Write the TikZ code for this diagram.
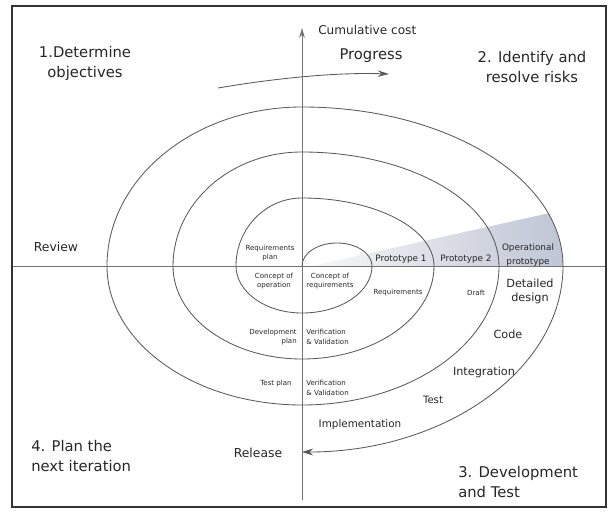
\documentclass[tikz,border=0pt]{standalone}
\usepackage{fontspec}
\setmainfont{DejaVu Sans}
\usetikzlibrary{arrows.meta}

\definecolor{wedgeblue}{RGB}{186,192,210}

\begin{document}
\begin{tikzpicture}[
    x=0.025cm, y=-0.025cm,
    frame/.style={line width=1.3pt, black!80},
    axis/.style={line width=0.5pt, black!55},
    spiral/.style={line width=0.6pt, black!65},
    quadtext/.style={font=\fontsize{10.5}{14.2}\selectfont, text=black!85, inner sep=0pt},
    phasetext/.style={font=\fontsize{8}{10}\selectfont, text=black!85, inner sep=0pt},
    prototext/.style={font=\fontsize{6.3}{10}\selectfont, text=black!85, inner sep=0pt},
    tinytext/.style={font=\fontsize{5}{7}\selectfont, text=black!85, inner sep=0pt}
]

\useasboundingbox (0,0) rectangle (615,511);

% ===== frame =====
\draw[frame] (12,6) rectangle (606,507);

% ===== prototype wedge (shaded) =====
\coordinate (origin) at (302,266);
\begin{scope}
    \clip (origin) -- (563,266) arc[start angle=0, end angle=-90, x radius=261, y radius=159] -- cycle;
    \shade[left color=gray!6, right color=wedgeblue] (312,266) -- (590,204) -- (590,266) -- cycle;
\end{scope}

% ===== axes =====
\coordinate (axistop) at (302,28);
\coordinate (axisbottom) at (302,500);
\coordinate (axisleft) at (13,266);
\coordinate (axisright) at (605,266);
\draw[axis, -{Stealth[length=7pt, width=4pt]}] (axisbottom) -- (axistop);
\draw[axis] (axisleft) -- (axisright);

% ===== spiral (quarter arcs, clockwise) =====
\draw[spiral, -{Stealth[length=8pt, width=5pt]}] (origin)
    arc[start angle=180, end angle=360, x radius=35, y radius=23]
    foreach \sa/\rx/\ry in {0/70/47, 90/66/47, 180/66/68, 270/132/68,
                            0/132/93, 90/129/93, 180/129/114, 270/197/114,
                            0/197/139, 90/195/139, 180/195/159, 270/261/159,
                            0/261/186} {
        arc[start angle=\sa, delta angle=90, x radius=\rx, y radius=\ry]
    };

% ===== progress arrow =====
\coordinate (progstart) at (218,88);
\coordinate (progend) at (389,74);
\draw[spiral, -{Stealth[length=8pt, width=4.5pt]}] (progstart) .. controls (265,80) and (330,72) .. (progend);

% ===== quadrant labels =====
\node[quadtext, align=center] (determine) at (85,63) {1.Determine\\objectives};
\node[quadtext, align=center] (identify) at (532,67) {2. Identify and\\resolve risks};
\node[quadtext, align=left, anchor=west] (develop) at (458,482) {3. Development\\and Test};
\node[quadtext, align=left, anchor=west] (nextplan) at (31,456) {4. Plan the\\next iteration};

% ===== axis labels =====
\node[phasetext, font=\fontsize{8.6}{10}\selectfont, anchor=west] (cost) at (318,30) {Cumulative cost};
\node[quadtext] (progress) at (371,56) {Progress};
\node[phasetext, font=\fontsize{8.8}{10}\selectfont] (review) at (56,247) {Review};
\node[phasetext, font=\fontsize{8.8}{10}\selectfont] (release) at (258,453) {Release};

% ===== inner labels =====
\node[tinytext, align=center] (reqplan) at (270,253) {Requirements\\plan};
\node[tinytext, align=center] (conop) at (274,281) {Concept of\\operation};
\node[tinytext, align=center] (conreq) at (330,281) {Concept of\\requirements};
\node[tinytext] (reqs) at (398,293) {Requirements};
\node[tinytext] (draft) at (476,293) {Draft};
\node[tinytext, align=right, anchor=east] (devplan) at (297,337) {Development\\plan};
\node[tinytext, align=left, anchor=west] (vvone) at (306,337) {Verification\\\& Validation};
\node[tinytext] (testplan) at (276,384) {Test plan};
\node[tinytext, align=left, anchor=west] (vvtwo) at (306,388) {Verification\\\& Validation};

% ===== prototypes =====
\node[prototext] (protoone) at (401,259) {Prototype 1};
\node[prototext] (prototwo) at (466,259) {Prototype 2};
\node[prototext, align=center] (opproto) at (528,255) {Operational\\prototype};

% ===== development phases =====
\node[phasetext, align=center] (detdesign) at (530,291) {Detailed\\design};
\node[phasetext] (code) at (508,334) {Code};
\node[phasetext] (integ) at (484,372) {Integration};
\node[phasetext, font=\fontsize{7.2}{9}\selectfont] (test) at (433,400) {Test};
\node[phasetext, font=\fontsize{7.4}{9}\selectfont] (impl) at (360,425) {Implementation};

\end{tikzpicture}
\end{document}
